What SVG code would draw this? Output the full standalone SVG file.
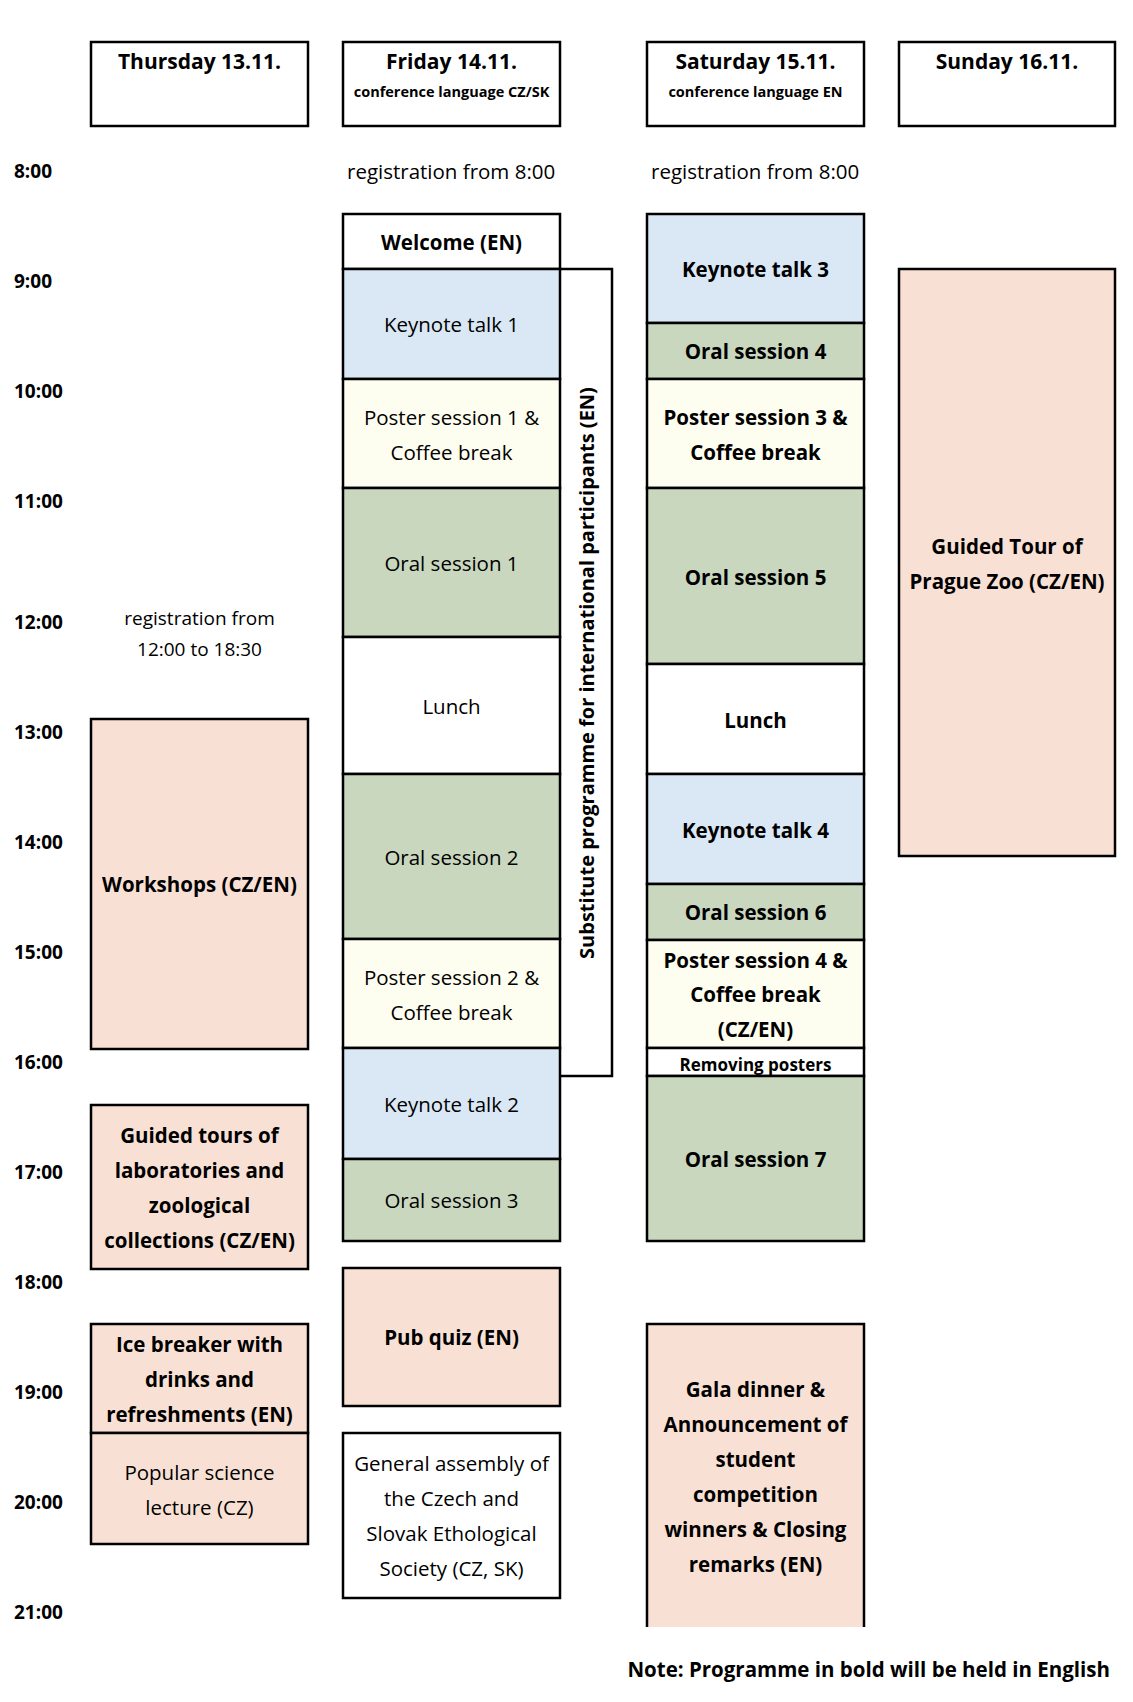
<svg xmlns="http://www.w3.org/2000/svg" width="1133" height="1702" viewBox="0 0 1133 1702">
<style>
text{font-family:"Open Sans","Noto Sans","Liberation Sans",sans-serif;fill:#000;text-anchor:middle;dominant-baseline:central}
.b{font-weight:bold}
.t{font-size:19px;font-weight:bold;text-anchor:start}
.x{font-size:20.5px}
.box{stroke:#000;stroke-width:2.5}
.w{fill:#fff}.bl{fill:#dae8f6}.cr{fill:#fdfdf0}.gr{fill:#c9d7bf}.pk{fill:#f9e0d4}
</style>
<rect width="1133" height="1702" fill="#fff"/>
<g id="times">
<text class="t" x="14" y="171">8:00</text>
<text class="t" x="14" y="281">9:00</text>
<text class="t" x="14" y="391">10:00</text>
<text class="t" x="14" y="501">11:00</text>
<text class="t" x="14" y="622">12:00</text>
<text class="t" x="14" y="732">13:00</text>
<text class="t" x="14" y="842">14:00</text>
<text class="t" x="14" y="952">15:00</text>
<text class="t" x="14" y="1062">16:00</text>
<text class="t" x="14" y="1172">17:00</text>
<text class="t" x="14" y="1282">18:00</text>
<text class="t" x="14" y="1392">19:00</text>
<text class="t" x="14" y="1502">20:00</text>
<text class="t" x="14" y="1612">21:00</text>
</g>
<g id="headers">
<g id="h-thu"><rect class="box w" x="91" y="42" width="217" height="84"/><text class="b" x="199.5" y="61" font-size="21">Thursday 13.11.</text></g>
<g id="h-fri"><rect class="box w" x="343" y="42" width="217" height="84"/><text class="b" x="451.5" y="61" font-size="21">Friday 14.11.</text><text class="b" x="451.5" y="91" font-size="14.5">conference language CZ/SK</text></g>
<g id="h-sat"><rect class="box w" x="647" y="42" width="217" height="84"/><text class="b" x="755.5" y="61" font-size="21">Saturday 15.11.</text><text class="b" x="755.5" y="91" font-size="14.5">conference language EN</text></g>
<g id="h-sun"><rect class="box w" x="899" y="42" width="216" height="84"/><text class="b" x="1007" y="61" font-size="21">Sunday 16.11.</text></g>
</g>
<g id="notes">
<text class="x" x="347" y="171" style="text-anchor:start" font-size="19">registration from 8:00</text>
<text class="x" x="651" y="171" style="text-anchor:start" font-size="19">registration from 8:00</text>
<text x="199.5" y="618" font-size="19">registration from</text>
<text x="199.5" y="649" font-size="19">12:00 to 18:30</text>
</g>
<g id="thursday">
<g id="workshops"><rect class="box pk" x="91" y="719" width="217" height="330"/><text class="x b" x="199.5" y="884">Workshops (CZ/EN)</text></g>
<g id="tours"><rect class="box pk" x="91" y="1105" width="217" height="164"/><text class="x b" x="199.5" y="1135">Guided tours of</text><text class="x b" x="199.5" y="1170">laboratories and</text><text class="x b" x="199.5" y="1205">zoological</text><text class="x b" x="199.5" y="1240">collections (CZ/EN)</text></g>
<g id="icebreaker"><rect class="box pk" x="91" y="1324" width="217" height="109"/><text class="x b" x="199.5" y="1344">Ice breaker with</text><text class="x b" x="199.5" y="1379">drinks and</text><text class="x b" x="199.5" y="1414">refreshments (EN)</text></g>
<g id="popular"><rect class="box pk" x="91" y="1433" width="217" height="111"/><text class="x" x="199.5" y="1472">Popular science</text><text class="x" x="199.5" y="1507">lecture (CZ)</text></g>
</g>
<g id="friday">
<g id="welcome"><rect class="box w" x="343" y="214" width="217" height="55"/><text class="x b" x="451.5" y="242">Welcome (EN)</text></g>
<g id="kt1"><rect class="box bl" x="343" y="269" width="217" height="110"/><text class="x" x="451.5" y="324">Keynote talk 1</text></g>
<g id="ps1"><rect class="box cr" x="343" y="379" width="217" height="109"/><text class="x" x="451.5" y="417">Poster session 1 &amp;</text><text class="x" x="451.5" y="452">Coffee break</text></g>
<g id="os1"><rect class="box gr" x="343" y="488" width="217" height="149"/><text class="x" x="451.5" y="563">Oral session 1</text></g>
<g id="lunch1"><rect class="box w" x="343" y="637" width="217" height="137"/><text class="x" x="451.5" y="706">Lunch</text></g>
<g id="os2"><rect class="box gr" x="343" y="774" width="217" height="165"/><text class="x" x="451.5" y="857">Oral session 2</text></g>
<g id="ps2"><rect class="box cr" x="343" y="939" width="217" height="109"/><text class="x" x="451.5" y="977">Poster session 2 &amp;</text><text class="x" x="451.5" y="1012">Coffee break</text></g>
<g id="kt2"><rect class="box bl" x="343" y="1048" width="217" height="111"/><text class="x" x="451.5" y="1104">Keynote talk 2</text></g>
<g id="os3"><rect class="box gr" x="343" y="1159" width="217" height="82"/><text class="x" x="451.5" y="1200">Oral session 3</text></g>
<g id="pubquiz"><rect class="box pk" x="343" y="1268" width="217" height="138"/><text class="x b" x="451.5" y="1337">Pub quiz (EN)</text></g>
<g id="assembly"><rect class="box w" x="343" y="1433" width="217" height="165"/><text class="x" x="451.5" y="1463">General assembly of</text><text class="x" x="451.5" y="1498">the Czech and</text><text class="x" x="451.5" y="1533">Slovak Ethological</text><text class="x" x="451.5" y="1568">Society (CZ, SK)</text></g>
<g id="substitute"><path d="M560 269H612V1076H560" fill="none" stroke="#000" stroke-width="2.5"/><text class="b" x="586" y="673" font-size="20" transform="rotate(-90 586 673)">Substitute programme for international participants (EN)</text></g>
</g>
<g id="saturday">
<g id="kt3"><rect class="box bl" x="647" y="214" width="217" height="109"/><text class="x b" x="755.5" y="269">Keynote talk 3</text></g>
<g id="os4"><rect class="box gr" x="647" y="323" width="217" height="56"/><text class="x b" x="755.5" y="351">Oral session 4</text></g>
<g id="ps3"><rect class="box cr" x="647" y="379" width="217" height="109"/><text class="x b" x="755.5" y="417">Poster session 3 &amp;</text><text class="x b" x="755.5" y="452">Coffee break</text></g>
<g id="os5"><rect class="box gr" x="647" y="488" width="217" height="176"/><text class="x b" x="755.5" y="577">Oral session 5</text></g>
<g id="lunch2"><rect class="box w" x="647" y="664" width="217" height="110"/><text class="x b" x="755.5" y="720">Lunch</text></g>
<g id="kt4"><rect class="box bl" x="647" y="774" width="217" height="110"/><text class="x b" x="755.5" y="830">Keynote talk 4</text></g>
<g id="os6"><rect class="box gr" x="647" y="884" width="217" height="56"/><text class="x b" x="755.5" y="912">Oral session 6</text></g>
<g id="ps4"><rect class="box cr" x="647" y="940" width="217" height="108"/><text class="x b" x="755.5" y="960">Poster session 4 &amp;</text><text class="x b" x="755.5" y="994">Coffee break</text><text class="x b" x="755.5" y="1029">(CZ/EN)</text></g>
<g id="removing"><rect class="box w" x="647" y="1048" width="217" height="28"/><text class="b" x="755.5" y="1064" font-size="17">Removing posters</text></g>
<g id="os7"><rect class="box gr" x="647" y="1076" width="217" height="165"/><text class="x b" x="755.5" y="1159">Oral session 7</text></g>
<g id="gala"><path d="M647 1627V1324H864V1627" class="pk" stroke="#000" stroke-width="2.5"/><text class="x b" x="755.5" y="1389">Gala dinner &amp;</text><text class="x b" x="755.5" y="1424">Announcement of</text><text class="x b" x="755.5" y="1459">student</text><text class="x b" x="755.5" y="1494">competition</text><text class="x b" x="755.5" y="1529">winners &amp; Closing</text><text class="x b" x="755.5" y="1564">remarks (EN)</text></g>
</g>
<g id="sunday">
<g id="zoo"><rect class="box pk" x="899" y="269" width="216" height="587"/><text class="x b" x="1007" y="546">Guided Tour of</text><text class="x b" x="1007" y="581">Prague Zoo (CZ/EN)</text></g>
</g>
<g id="connectors"></g>
<text class="b" x="1110" y="1669" font-size="20.5" style="text-anchor:end">Note: Programme in bold will be held in English</text>
</svg>
